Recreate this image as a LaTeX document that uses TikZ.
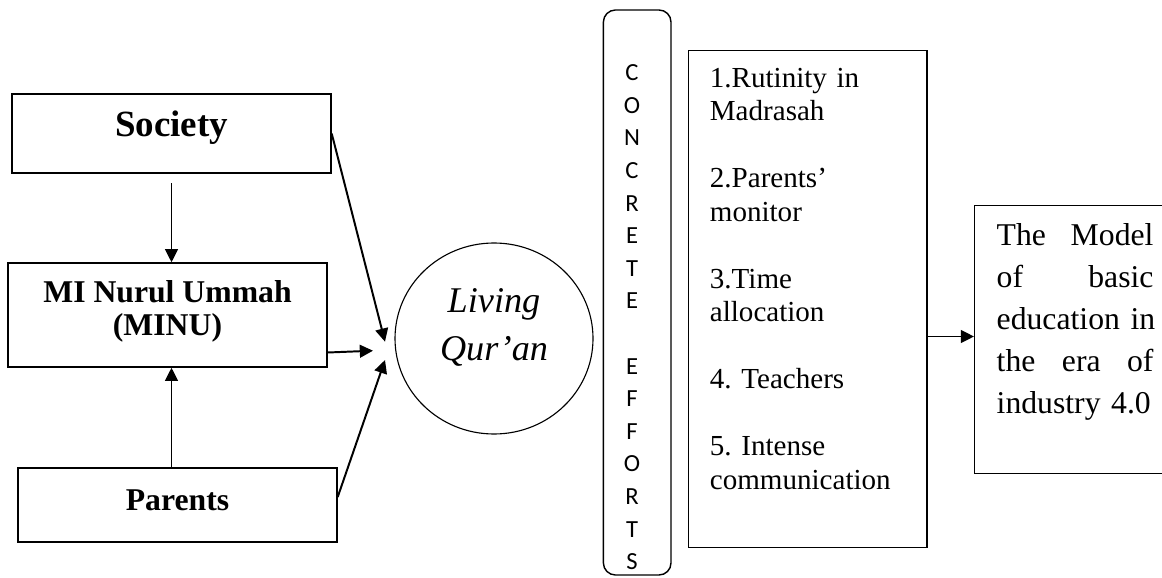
\documentclass[tikz,border=0pt]{standalone}
\usepackage{fontspec}
\setmainfont{Liberation Serif}
\newfontfamily\calibri{Carlito}
\usetikzlibrary{arrows.meta,shapes.geometric}

\begin{document}
\begin{tikzpicture}[
    box/.style={draw, line width=1pt, inner ysep=0pt, minimum width=7.975cm},
    arr/.style={-{Triangle[length=0.33cm,width=0.32cm]}, line width=1.4pt},
    letter/.style={anchor=base, inner sep=0pt, font=\calibri\fontsize{17.5}{20}\selectfont}
  ]
        \useasboundingbox (0,0) rectangle (29.05,14.425);

        \node[box, anchor=base, text height=1.075cm, text depth=0.9cm, font=\bfseries\fontsize{26.3}{28}\selectfont] (soc) at (4.2875, 11) {Society};
        \node[box, anchor=base, align=center, text height=1.8cm, text depth=0.8cm, font=\bfseries\fontsize{22.55}{23}\selectfont] (minu) at (4.1875, 6.05) {MI Nurul Ummah\\(MINU)};
        \node[box, anchor=base, text height=1.05cm, text depth=0.8cm, font=\bfseries\fontsize{22.55}{23}\selectfont] (par) at (4.4375, 1.675) {Parents};

        \node[draw, ellipse, line width=0.8pt, minimum width=4.95cm, minimum height=4.775cm, align=center, text height=1.41cm, text depth=0.3cm, font=\itshape\fontsize{25.75}{34.6}\selectfont] (lq) at (12.35, 5.9625) {Living\\Qur’an};

        \node[draw, rounded corners=0.3cm, line width=1pt, minimum width=1.69cm, minimum height=14.125cm] (ce) at (15.93, 7.1125) {};
        \foreach \ch [count=\i] in {C,O,N,C,R,E,T,E}
            \node[letter] (c\i) at (15.8, 12.41-0.815*\i+0.815) {\ch};
        \foreach \ch [count=\i] in {E,F,F,O,R,T,S}
            \node[letter] (e\i) at (15.8, 12.41-0.815*\i-6.52) {\ch};

        \node[draw, line width=1pt, anchor=north west, text width=4.9cm, inner xsep=0.53cm, inner ysep=0pt, text height=0.9175cm, text depth=11.5075cm, align=left, font=\fontsize{20.67}{23.83}\selectfont\frenchspacing] (lst) at (17.2, 13.175)
            {1.Rutinity in\\Madrasah\\[23.83pt]2.Parents’\\monitor\\[23.83pt]3.Time\\allocation\\[23.83pt]4. Teachers\\[23.83pt]5. Intense\\communication};
        \node[draw, line width=1pt, anchor=north west, text width=3.92cm, inner xsep=0.55cm, inner ysep=0pt, text height=1.0cm, text depth=5.7cm, align=left, font=\fontsize{22.55}{29.9}\selectfont] (mdl) at (24.35, 9.3)
            {The\hfill Model\\of\hfill basic\\education~in\\the\hfill era\hfill of\\industry 4.0};

        \coordinate (tsoc) at (9.625, 5.8825);
        \coordinate (tmin) at (9.325, 5.6575);
        \coordinate (tpar) at (9.625, 5.425);
        \coordinate (mdin) at ([yshift=0.08cm]mdl.west);

        \draw[arr] ([yshift=-0.24cm]soc.south) -- (soc.south |- minu.north);
        \draw[arr] (soc.south |- par.north) -- (soc.south |- minu.south);
        \draw[arr] (soc.east) -- (tsoc);
        \draw[arr] ([yshift=0.38cm]minu.south east) -- (tmin);
        \draw[arr] ([yshift=0.2cm]par.east) -- (tpar);
        \draw[arr] (lst.east |- mdin) -- (mdin);

    \end{tikzpicture}
\end{document}
